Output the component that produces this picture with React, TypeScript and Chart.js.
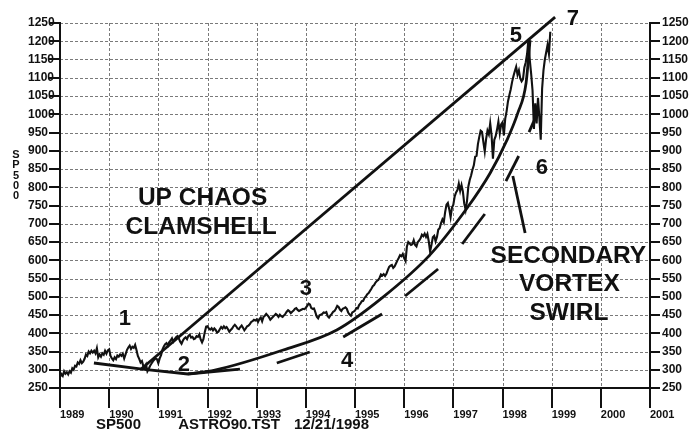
import React, { useEffect, useRef } from 'react';
import { Chart, registerables } from 'chart.js';

Chart.register(...registerables);

const FONT = '"Liberation Sans", Arial, Helvetica, sans-serif';

// sampling of the SP500 series: ~3 samples per month starting Jan 1989
const startYear = 1989;
const samplesPerYear = 36;

const price1989 = [280, 288, 283, 296, 289, 293, 287, 296, 292, 304, 300, 311, 309, 320, 316, 326, 318, 322, 330, 342, 338, 350, 345, 352, 347, 352, 345, 359, 334, 342, 336, 345, 341, 352, 344, 353];
const price1990 = [356, 338, 331, 326, 334, 329, 339, 336, 342, 338, 344, 331, 342, 354, 361, 366, 357, 363, 360, 368, 354, 338, 330, 320, 324, 310, 306, 314, 296, 303, 311, 317, 323, 327, 331, 329];
const price1991 = [318, 331, 340, 355, 364, 370, 373, 366, 376, 380, 386, 377, 384, 389, 392, 386, 377, 371, 380, 386, 389, 384, 393, 396, 388, 390, 384, 386, 392, 390, 397, 383, 375, 384, 403, 418];
const price1992 = [419, 413, 410, 414, 408, 413, 409, 402, 404, 411, 417, 413, 419, 414, 417, 411, 404, 409, 413, 419, 423, 419, 413, 411, 417, 421, 415, 408, 413, 419, 421, 425, 431, 433, 437, 435];
const price1993 = [438, 431, 439, 443, 433, 445, 448, 453, 449, 444, 437, 441, 445, 449, 453, 450, 445, 451, 447, 445, 449, 453, 459, 463, 460, 455, 459, 462, 467, 469, 464, 461, 463, 465, 467, 466];
const price1994 = [470, 475, 481, 479, 469, 467, 468, 457, 445, 441, 449, 451, 453, 457, 456, 458, 447, 443, 449, 453, 459, 461, 467, 475, 472, 465, 461, 467, 469, 471, 467, 457, 451, 448, 457, 459];
const price1995 = [462, 469, 468, 477, 482, 488, 489, 497, 501, 507, 510, 516, 522, 529, 532, 539, 543, 546, 552, 561, 558, 562, 557, 563, 573, 582, 585, 587, 579, 583, 591, 599, 606, 614, 611, 617];
const price1996 = [606, 598, 638, 650, 646, 642, 644, 655, 642, 638, 650, 654, 660, 670, 666, 673, 664, 672, 652, 624, 642, 663, 667, 652, 664, 684, 688, 702, 712, 704, 732, 752, 757, 740, 718, 744];
const price1997 = [752, 775, 786, 792, 810, 790, 806, 788, 755, 738, 762, 802, 820, 832, 848, 860, 884, 886, 918, 938, 955, 952, 924, 898, 932, 955, 945, 975, 942, 878, 930, 940, 958, 980, 948, 972];
const price1998 = [978, 942, 988, 1008, 1035, 1052, 1068, 1088, 1104, 1118, 1130, 1108, 1120, 1098, 1090, 1096, 1128, 1142, 1165, 1205, 1148, 1110, 1065, 960, 1030, 975, 1045, 990, 930, 1070, 1120, 1150, 1170, 1190, 1165, 1226];

const priceValues = [...price1989, ...price1990, ...price1991, ...price1992, ...price1993, ...price1994, ...price1995, ...price1996, ...price1997, ...price1998];

const yearTicks = [1989, 1990, 1991, 1992, 1993, 1994, 1995, 1996, 1997, 1998, 1999, 2000, 2001];
const valueTicks = [250, 300, 350, 400, 450, 500, 550, 600, 650, 700, 750, 800, 850, 900, 950, 1000, 1050, 1100, 1150, 1200, 1250];

// "Up chaos clamshell" upper straight line
const topLineX = [1990.65, 1999.07];
const topLineY = [302, 1266];

// lower base line through point 2
const baseLineX = [1989.69, 1990.67, 1991.6, 1992.66];
const baseLineY = [318.5, 302, 288.4, 302];

// lower clamshell curve
const curveX = [1991.6, 1992.15, 1993.54, 1994.63, 1995.57, 1996.52, 1997.28, 1997.75, 1998.09, 1998.31, 1998.48, 1998.56];
const curveY = [288.4, 299, 354, 409, 499, 614, 743, 839, 929, 1003, 1086, 1203];

// short tangent strokes: [x1, y1, x2, y2]
const tangentSegments = [
  [1993.41, 318.5, 1994.08, 348.6],
  [1994.76, 389.7, 1995.55, 452.7],
  [1996.02, 502, 1996.69, 576],
  [1997.18, 644.5, 1997.64, 726.7],
  [1998.07, 817, 1998.33, 885.6],
  [1998.21, 830.8, 1998.46, 674.7],
  [1998.54, 951, 1998.72, 1006],
];

const labelTexts = ['UP CHAOS', 'CLAMSHELL', 'SECONDARY', 'VORTEX', 'SWIRL'];
const labelX = [1991.9, 1991.87, 1999.34, 1999.36, 1999.35];
const labelY = [774.7, 695.2, 617.1, 540.4, 461];

const waveNumbers = ['1', '2', '3', '4', '5', '6', '7'];
const waveX = [1990.32, 1991.52, 1994.0, 1994.84, 1998.27, 1998.8, 1999.43];
const waveY = [444.5, 318.5, 526.7, 329.5, 1219.9, 858.2, 1266.4];

const footerTexts = ['SP500', 'ASTRO90.TST', '12/21/1998'];
const axisTitle = 'SP500';

const gridPlugin = {
  id: 'dashedGrid',
  beforeDraw(chart: any) {
    const { ctx, chartArea, scales } = chart;
    const xs = scales.x;
    const ys = scales.y;
    ctx.save();
    ctx.strokeStyle = '#7a7a7a';
    ctx.lineWidth = 1;
    ctx.setLineDash([3, 2]);
    yearTicks.forEach((v) => {
      const px = Math.round(xs.getPixelForValue(v)) + 0.5;
      ctx.beginPath();
      ctx.moveTo(px, chartArea.top);
      ctx.lineTo(px, chartArea.bottom);
      ctx.stroke();
    });
    valueTicks.forEach((v) => {
      const py = Math.round(ys.getPixelForValue(v)) + 0.5;
      ctx.beginPath();
      ctx.moveTo(chartArea.left, py);
      ctx.lineTo(chartArea.right, py);
      ctx.stroke();
    });
    ctx.restore();
  },
};

const textPlugin = {
  id: 'textPlugin',
  afterDraw(chart: any) {
    const { ctx, scales } = chart;
    const xs = scales.x;
    const ys = scales.y;
    ctx.save();
    ctx.fillStyle = '#111';
    ctx.textAlign = 'center';
    ctx.textBaseline = 'alphabetic';
    const put = (t: string, px: number, py: number, size: number) => {
      ctx.font = `bold ${size}px ${FONT}`;
      ctx.fillText(t, px, py + size * 0.358);
    };
    labelTexts.forEach((t, i) => put(t, xs.getPixelForValue(labelX[i]), ys.getPixelForValue(labelY[i]), 24.5));
    waveNumbers.forEach((t, i) => put(t, xs.getPixelForValue(waveX[i]), ys.getPixelForValue(waveY[i]), 22));
    const footerPos = [118.5, 229, 331.5];
    footerTexts.forEach((t, i) => put(t, footerPos[i], 424, 15));
    axisTitle.split('').forEach((ch, i) => put(ch, 16, 154 + i * 10.3, 11));
    ctx.restore();
  },
};

const lineStyle = {
  borderColor: '#111',
  pointRadius: 0,
  pointHoverRadius: 0,
  fill: false,
  tension: 0,
};

export default function App() {
  const canvasRef = useRef<HTMLCanvasElement | null>(null);

  useEffect(() => {
    document.body.style.margin = '0';
    const canvas = canvasRef.current;
    if (!canvas) return;

    const datasets: any[] = [
      {
        ...lineStyle,
        label: 'SP500',
        data: priceValues.map((v, i) => ({ x: startYear + i / samplesPerYear, y: v })),
        borderWidth: 2.1,
      },
      {
        ...lineStyle,
        label: 'top',
        data: topLineX.map((x, i) => ({ x, y: topLineY[i] })),
        borderWidth: 2.8,
        clip: false,
      },
      {
        ...lineStyle,
        label: 'base',
        data: baseLineX.map((x, i) => ({ x, y: baseLineY[i] })),
        borderWidth: 2.8,
      },
      {
        ...lineStyle,
        label: 'curve',
        data: curveX.map((x, i) => ({ x, y: curveY[i] })),
        borderWidth: 2.8,
        cubicInterpolationMode: 'monotone',
      },
      ...tangentSegments.map((s, i) => ({
        ...lineStyle,
        label: 'tangent' + i,
        data: [
          { x: s[0], y: s[1] },
          { x: s[2], y: s[3] },
        ],
        borderWidth: 2.8,
      })),
    ];

    const tickFont = { family: FONT, weight: 'bold' as const, size: 12 };

    const chart = new Chart(canvas, {
      type: 'line',
      data: { datasets },
      options: {
        responsive: false,
        animation: false,
        devicePixelRatio: 1,
        layout: { padding: { left: 28, top: 23, right: 0, bottom: 0 } },
        plugins: { legend: { display: false }, tooltip: { enabled: false }, title: { display: false } },
        events: [],
        scales: {
          x: {
            type: 'linear',
            position: 'bottom',
            min: 1989,
            max: 2001,
            afterBuildTicks: (s: any) => {
              s.ticks = yearTicks.map((v) => ({ value: v }));
            },
            afterFit: (s: any) => {
              s.height = 47;
            },
            ticks: {
              align: 'start',
              padding: 0,
              autoSkip: false,
              maxRotation: 0,
              minRotation: 0,
              color: '#111',
              font: { family: FONT, weight: 'bold', size: 11 },
              callback: (v: any) => String(v),
            },
            grid: { drawOnChartArea: false, color: '#111', lineWidth: 2, tickLength: 20, tickColor: '#111', tickWidth: 2 },
            border: { display: true, color: '#111', width: 2 },
          } as any,
          y: {
            type: 'linear',
            position: 'left',
            min: 250,
            max: 1250,
            afterBuildTicks: (s: any) => {
              s.ticks = valueTicks.map((v) => ({ value: v }));
            },
            afterFit: (s: any) => {
              s.width = 32;
            },
            ticks: {
              padding: 0,
              autoSkip: false,
              crossAlign: 'far',
              color: '#111',
              font: tickFont,
              callback: (v: any) => String(v),
            },
            grid: { drawOnChartArea: false, color: '#111', lineWidth: 2, tickLength: 11, tickColor: '#111', tickWidth: 2 },
            border: { display: true, color: '#111', width: 2 },
          } as any,
          y2: {
            type: 'linear',
            position: 'right',
            min: 250,
            max: 1250,
            afterBuildTicks: (s: any) => {
              s.ticks = valueTicks.map((v) => ({ value: v }));
            },
            afterFit: (s: any) => {
              s.width = 45;
            },
            ticks: {
              padding: 2,
              autoSkip: false,
              crossAlign: 'near',
              color: '#111',
              font: tickFont,
              callback: (v: any) => String(v),
            },
            grid: { drawOnChartArea: false, color: '#111', lineWidth: 2, tickLength: 10, tickColor: '#111', tickWidth: 2 },
            border: { display: true, color: '#111', width: 2 },
          } as any,
        },
      },
      plugins: [gridPlugin, textPlugin],
    });

    return () => chart.destroy();
  }, []);

  return (
    <div style={{ position: 'absolute', left: 0, top: 0, width: 695, height: 435, background: '#fff' }}>
      <canvas ref={canvasRef} width={695} height={435} style={{ display: 'block' }} />
    </div>
  );
}
